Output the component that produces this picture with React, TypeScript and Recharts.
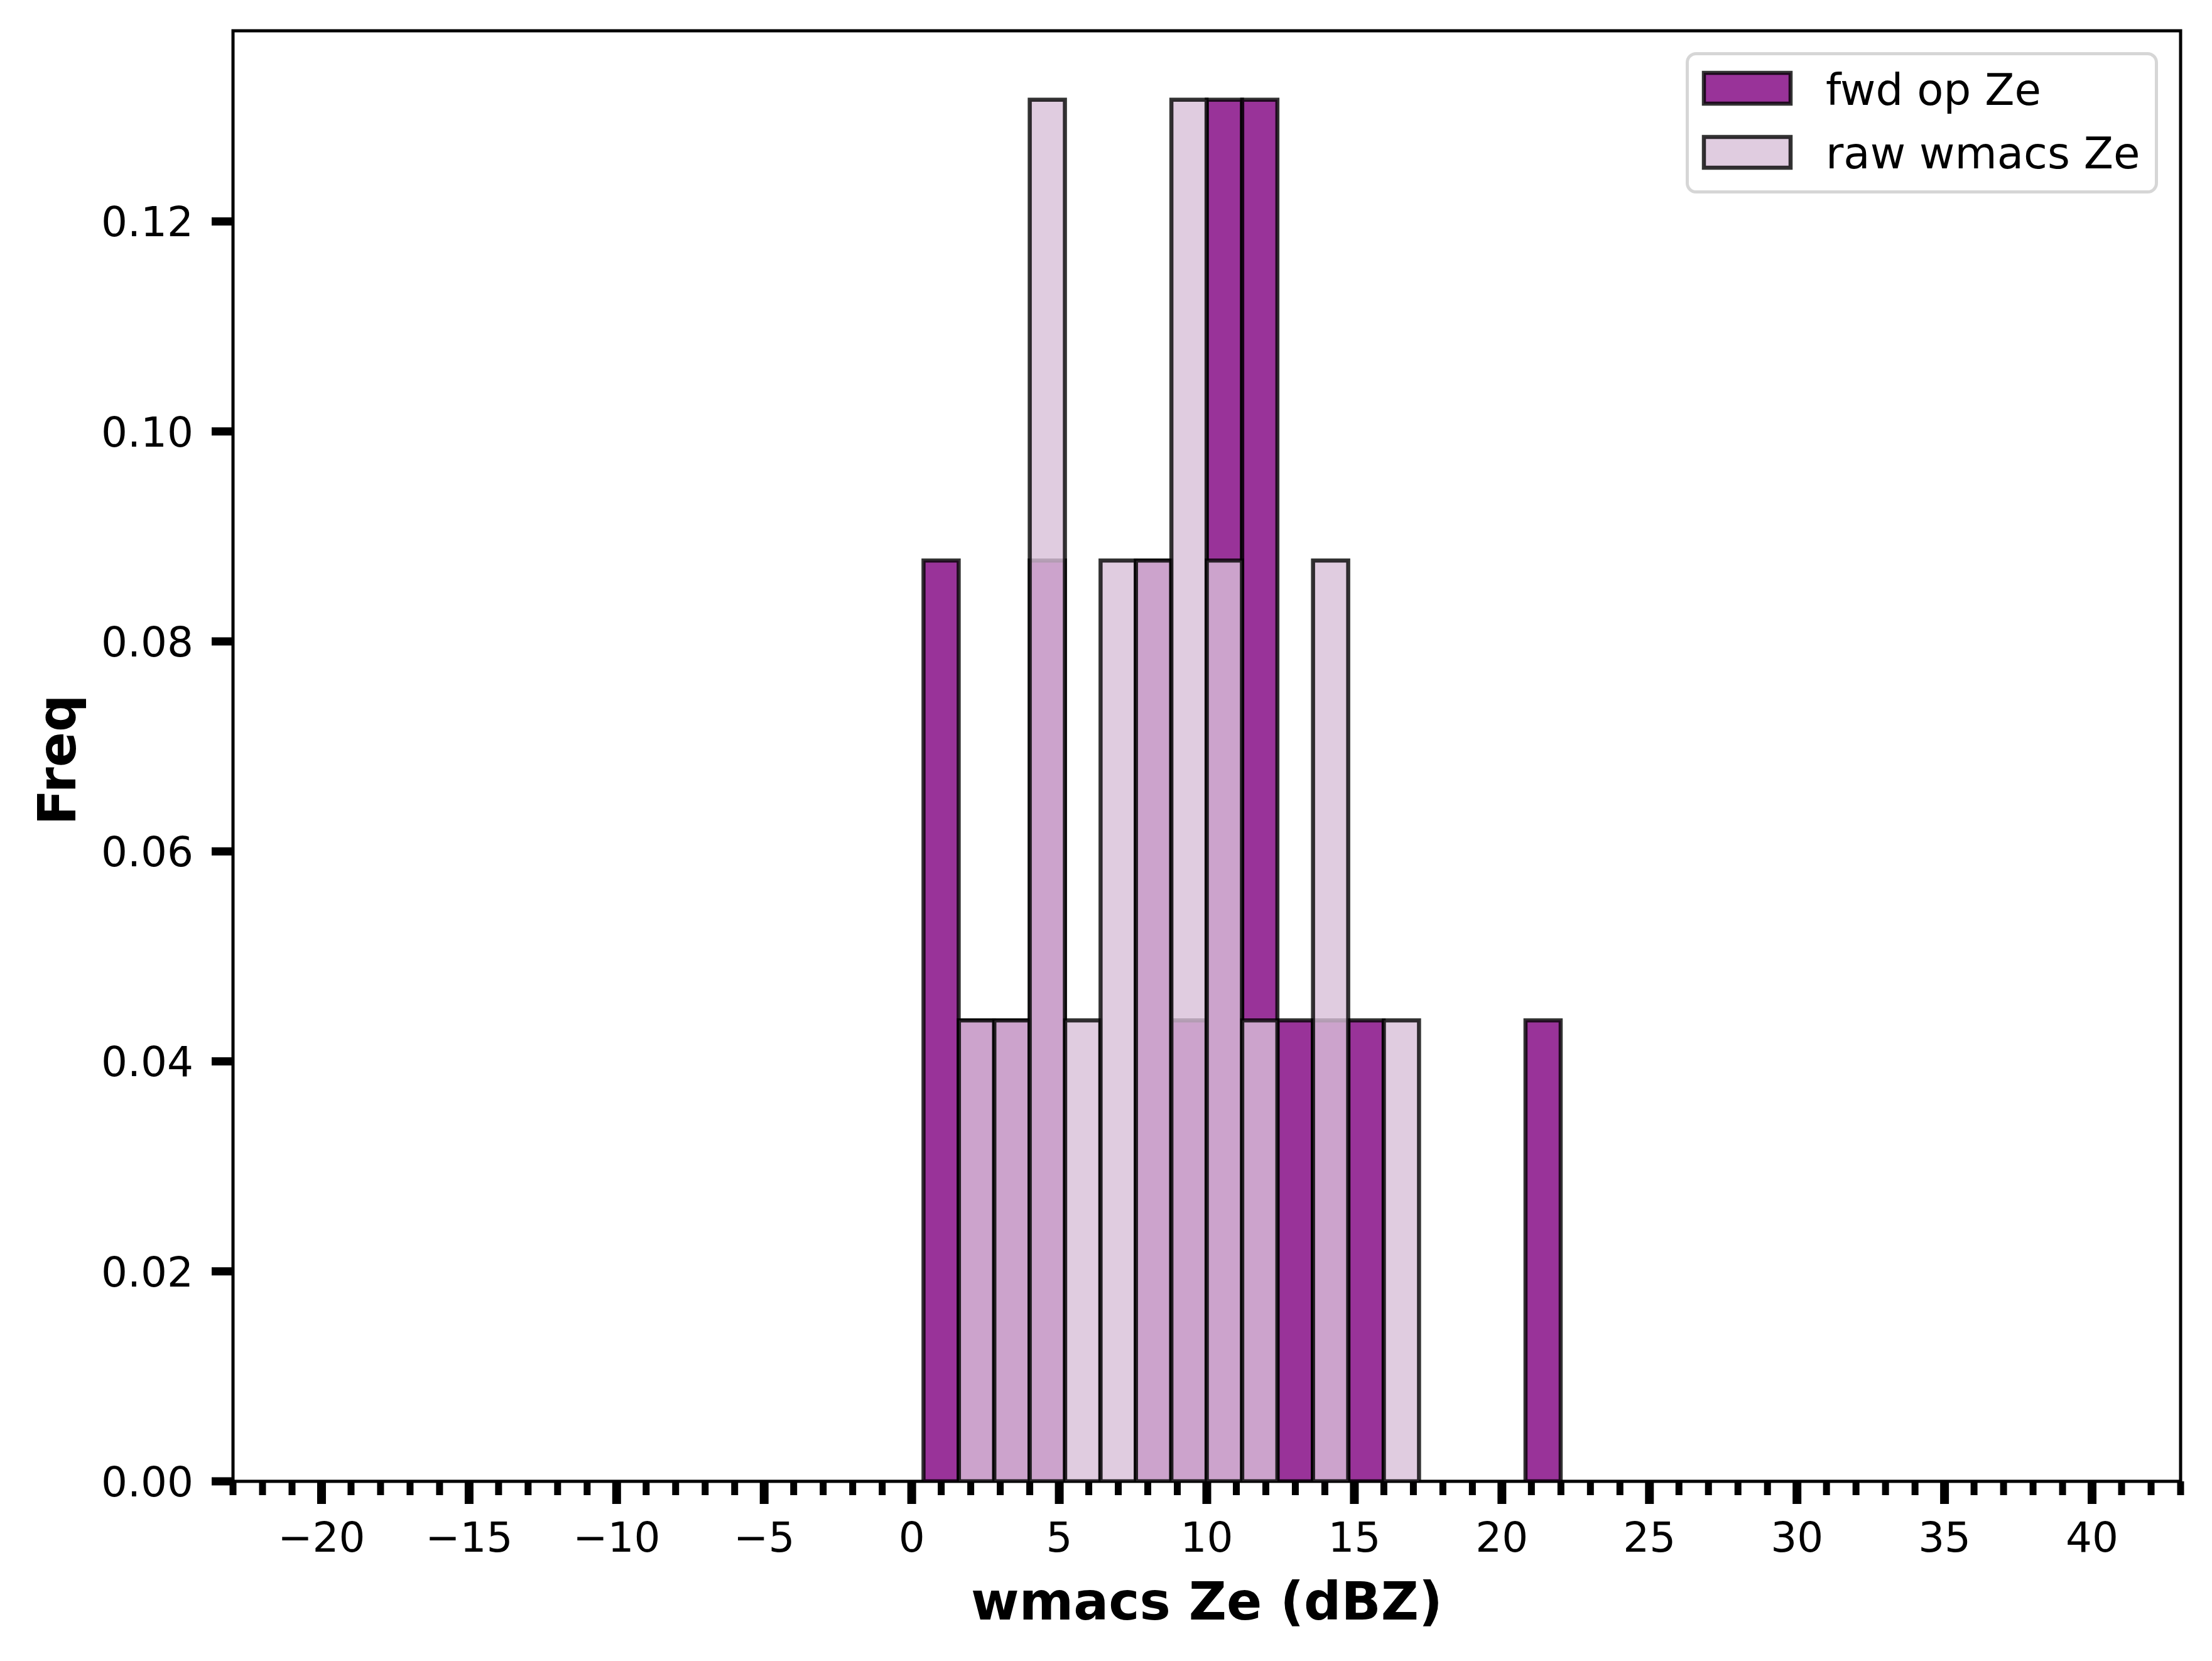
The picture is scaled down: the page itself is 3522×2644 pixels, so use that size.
import React from 'react';
import { ComposedChart, Bar, XAxis, YAxis, ReferenceArea, Legend, Label } from 'recharts';

// Histogram bins (width 1.2 dBZ, edges from -20 to 40); only the populated stretch is listed
const binCenters = [1.0, 2.2, 3.4, 4.6, 5.8, 7.0, 8.2, 9.4, 10.6, 11.8, 13.0, 14.2, 15.4, 16.6, 17.8, 19.0, 20.2, 21.4];
const fwdOpZe = [0.0877, 0.0439, 0.0439, 0.0877, 0, 0, 0.0877, 0.0439, 0.1316, 0.1316, 0.0439, 0.0439, 0.0439, 0, 0, 0, 0, 0.0439];
const rawWmacsZe = [0, 0.0439, 0.0439, 0.1316, 0.0439, 0.0877, 0.0877, 0.1316, 0.0877, 0.0439, 0, 0.0877, 0, 0.0439, 0, 0, 0, 0];

const seriesNames = ['fwd op Ze', 'raw wmacs Ze'];
const seriesColors = ['#800080', '#D8BFD8'];

const xMajorTicks = [-20, -15, -10, -5, 0, 5, 10, 15, 20, 25, 30, 35, 40];
const xMinorTicks = [
  -23, -22, -21, -19, -18, -17, -16, -14, -13, -12, -11, -9, -8, -7, -6, -4, -3, -2, -1,
  1, 2, 3, 4, 6, 7, 8, 9, 11, 12, 13, 14, 16, 17, 18, 19, 21, 22, 23, 24, 26, 27, 28, 29,
  31, 32, 33, 34, 36, 37, 38, 39, 41, 42, 43,
];
const yTicks = [0, 0.02, 0.04, 0.06, 0.08, 0.1, 0.12];
const xDomain = [-23, 43];
const yDomain = [0, 0.13816];

const xLabel = 'wmacs Ze (dBZ)';
const yLabel = 'Freq';

const data = binCenters.map((x, i) => ({ x, fwd: fwdOpZe[i], raw: rawWmacsZe[i] }));
const allXTicks = [...xMajorTicks, ...xMinorTicks].sort((a, b) => a - b);

const FONT = 'DejaVu Sans';

const fmtX = (v: number) => (v < 0 ? '\u2212' + Math.abs(v) : String(v));

const XTick = (props: any) => {
  const { x, y, payload } = props;
  const v = payload.value;
  const major = xMajorTicks.includes(v);
  return (
    <g>
      <line x1={x} x2={x} y1={y} y2={y + (major ? 36 : 22)} stroke="#000" strokeWidth={major ? 14 : 11} />
      {major && (
        <text x={x} y={y + 112} textAnchor="middle" fontSize={66} fontFamily={FONT} fill="#000">
          {fmtX(v)}
        </text>
      )}
    </g>
  );
};

const YTick = (props: any) => {
  const { x, y, payload } = props;
  const v = payload.value as number;
  return (
    <g>
      <line x1={x - 34} x2={x} y1={y} y2={y} stroke="#000" strokeWidth={13} />
      <text x={x - 63} y={y + 24} textAnchor="end" fontSize={66} fontFamily={FONT} fill="#000">
        {v.toFixed(2)}
      </text>
    </g>
  );
};

const XLabelContent = (props: any) => {
  const vb = props.viewBox;
  return (
    <text
      x={vb.x + vb.width / 2}
      y={vb.y + 220}
      textAnchor="middle"
      fontSize={83}
      fontWeight="bold"
      fontFamily={FONT}
      fill="#000"
    >
      {xLabel}
    </text>
  );
};

const YLabelContent = (props: any) => {
  const vb = props.viewBox;
  const cx = vb.x + 120;
  const cy = vb.y + vb.height / 2 + 6;
  return (
    <text
      x={cx}
      y={cy}
      transform={`rotate(-90, ${cx}, ${cy})`}
      textAnchor="middle"
      fontSize={83}
      fontWeight="bold"
      fontFamily={FONT}
      fill="#000"
    >
      {yLabel}
    </text>
  );
};

const LegendBox = () => (
  <svg width={752} height={225} style={{ display: 'block' }}>
    <rect
      x={2.5}
      y={2.5}
      width={747}
      height={220}
      rx={14}
      ry={14}
      fill="#fff"
      fillOpacity={0.8}
      stroke="#cccccc"
      strokeOpacity={0.8}
      strokeWidth={5}
    />
    {seriesNames.map((name, i) => (
      <g key={name}>
        <rect
          x={29}
          y={33 + i * 102}
          width={138}
          height={49}
          fill={seriesColors[i]}
          fillOpacity={0.8}
          stroke="#000"
          strokeOpacity={0.8}
          strokeWidth={6.5}
        />
        <text x={223} y={84 + i * 101} fontSize={69} fontFamily={FONT} fill="#000">
          {name}
        </text>
      </g>
    ))}
  </svg>
);

export default function App() {
  return (
    <div style={{ position: 'absolute', left: 0, top: 0, width: 3522, height: 2644, background: '#fff' }}>
      <ComposedChart
        width={3522}
        height={2644}
        data={data}
        margin={{ top: 49, right: 50, bottom: 0, left: 0 }}
        barCategoryGap={0}
        barGap={0}
      >
        <XAxis
          xAxisId="fwd"
          dataKey="x"
          type="number"
          domain={xDomain}
          allowDataOverflow
          ticks={allXTicks}
          interval={0}
          tick={<XTick />}
          tickLine={false}
          axisLine={false}
          tickSize={0}
          tickMargin={0}
          height={286}
        >
          <Label content={<XLabelContent />} />
        </XAxis>
        <XAxis xAxisId="raw" dataKey="x" type="number" domain={xDomain} allowDataOverflow hide />
        <YAxis
          type="number"
          domain={yDomain}
          allowDataOverflow
          ticks={yTicks}
          interval={0}
          tick={<YTick />}
          tickLine={false}
          axisLine={false}
          tickSize={0}
          tickMargin={0}
          width={371}
        >
          <Label content={<YLabelContent />} />
        </YAxis>
        <Bar
          xAxisId="fwd"
          dataKey="fwd"
          name={seriesNames[0]}
          fill={seriesColors[0]}
          fillOpacity={0.8}
          stroke="#000"
          strokeOpacity={0.8}
          strokeWidth={6.5}
          isAnimationActive={false}
        />
        <Bar
          xAxisId="raw"
          dataKey="raw"
          name={seriesNames[1]}
          fill={seriesColors[1]}
          fillOpacity={0.8}
          stroke="#000"
          strokeOpacity={0.8}
          strokeWidth={6.5}
          isAnimationActive={false}
        />
        <ReferenceArea
          xAxisId="fwd"
          x1={xDomain[0]}
          x2={xDomain[1]}
          y1={yDomain[0]}
          y2={yDomain[1]}
          fill="none"
          stroke="#000"
          strokeWidth={5}
          ifOverflow="visible"
        />
        <Legend
          content={<LegendBox />}
          layout="vertical"
          align="center"
          verticalAlign="middle"
          wrapperStyle={{ position: 'absolute', left: 2684, top: 83, width: 752, height: 225 }}
        />
      </ComposedChart>
    </div>
  );
}
